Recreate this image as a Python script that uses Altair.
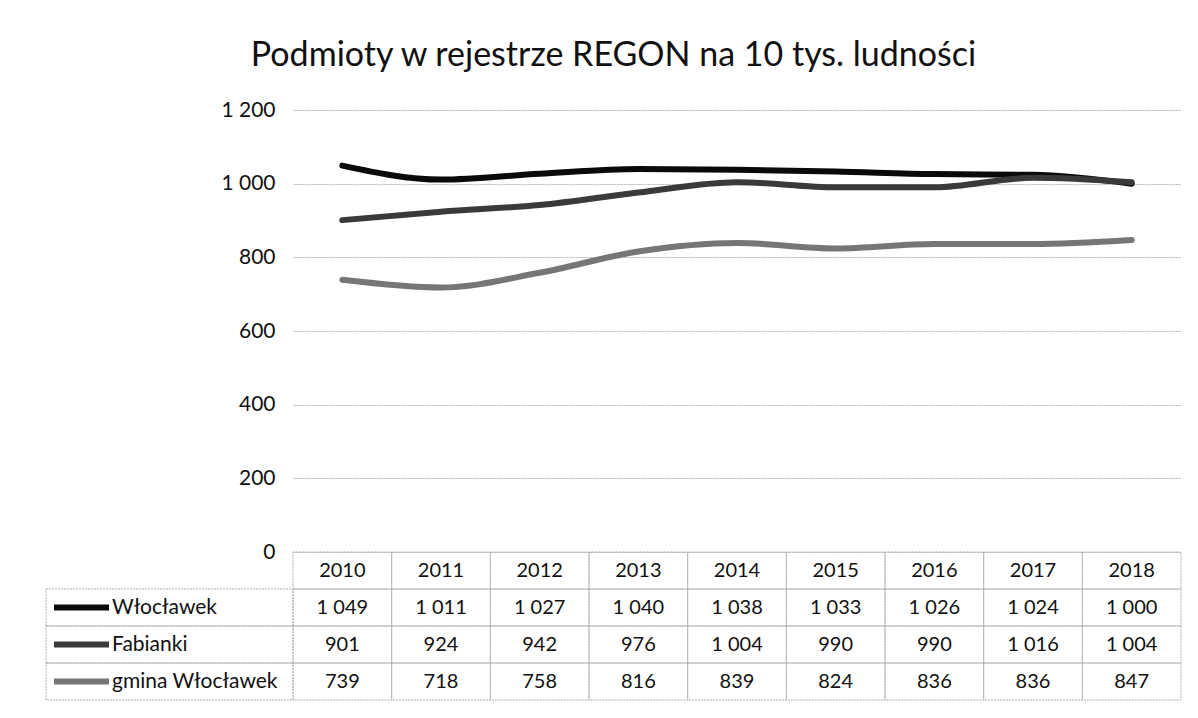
import altair as alt
import pandas as pd

# ---- data ----
years = ["2010", "2011", "2012", "2013", "2014", "2015", "2016", "2017", "2018"]
series_names = ["Włocławek", "Fabianki", "gmina Włocławek"]
wloclawek = [1049, 1011, 1027, 1040, 1038, 1033, 1026, 1024, 1000]
fabianki = [901, 924, 942, 976, 1004, 990, 990, 1016, 1004]
gmina_wloclawek = [739, 718, 758, 816, 839, 824, 836, 836, 847]
y_ticks = [0, 200, 400, 600, 800, 1000, 1200]
title_text = "Podmioty w rejestrze REGON na 10 tys. ludności"
colors = ["#0a0a0a", "#3a3a3a", "#767676"]

FONT = "Lato"
W, H = 888, 442

series_values = [wloclawek, fabianki, gmina_wloclawek]
rows = []
for name, vals in zip(series_names, series_values):
    for yr, v in zip(years, vals):
        rows.append({"year": yr, "series": name, "value": v})
df = pd.DataFrame(rows)


def fmt(v):
    return f"{v:,}".replace(",", " ")


table_rows = [{"year": yr, "row": "hdr", "label": yr} for yr in years]
for name, vals in zip(series_names, series_values):
    for yr, v in zip(years, vals):
        table_rows.append({"year": yr, "row": name, "label": fmt(v)})
table_df = pd.DataFrame(table_rows)
legend_df = pd.DataFrame({"row": series_names, "series": series_names})

color = alt.Color("series:N", scale=alt.Scale(domain=series_names, range=colors), legend=None)

# ---- line chart ----
lines = alt.Chart(df).mark_line(strokeWidth=6, interpolate="monotone", strokeCap="round").encode(
    x=alt.X("year:O", scale=alt.Scale(type="point", padding=0.5, domain=years), axis=None),
    y=alt.Y(
        "value:Q",
        scale=alt.Scale(domain=[0, 1200]),
        axis=alt.Axis(
            values=y_ticks, title=None, domain=False, ticks=False, labelPadding=18,
            labelFontSize=21, labelFont=FONT, labelColor="#111111",
            gridColor="#b5b5b5", gridDash=[2, 1], gridWidth=1,
            labelExpr="replace(format(datum.value, ','), ',', ' ')",
        ),
    ),
    color=color,
).properties(width=W, height=H)

# ---- data table under the chart ----
row_domain = ["hdr"] + series_names
x_tab = alt.X("year:O", scale=alt.Scale(type="band", paddingInner=0, paddingOuter=0, domain=years), axis=None)
y_tab = alt.Y("row:N", scale=alt.Scale(domain=row_domain, paddingInner=0, paddingOuter=0), axis=None)

cells = alt.Chart(table_df).mark_rect(
    fillOpacity=0, stroke="#b0b0b0", strokeDash=[2, 1], strokeWidth=1
).encode(x=x_tab, y=y_tab)

cell_text = alt.Chart(table_df).mark_text(fontSize=20, font=FONT, color="#111111").encode(
    x=x_tab, y=y_tab, text="label:N"
)

legend_cells = alt.Chart(legend_df).mark_rect(
    fillOpacity=0, stroke="#b0b0b0", strokeDash=[2, 1], strokeWidth=1
).encode(x=alt.value(-247), x2=alt.value(0), y=y_tab)

legend_swatch = alt.Chart(legend_df).mark_rule(strokeWidth=6).encode(
    x=alt.value(-239), x2=alt.value(-184), y=y_tab, color=color
)

legend_text = alt.Chart(legend_df).mark_text(
    fontSize=21, font=FONT, color="#111111", align="left"
).encode(x=alt.value(-181), y=y_tab, text="row:N")

table = alt.layer(cells, cell_text, legend_cells, legend_swatch, legend_text).properties(
    width=W, height=148
)

chart = alt.vconcat(lines, table, spacing=0, bounds="flush").properties(
    title=alt.TitleParams(
        title_text, fontSize=34, font=FONT, fontWeight="normal", color="#111111",
        anchor="middle", offset=26,
    ),
    padding={"left": 37, "top": 31, "right": 5, "bottom": 5},
).configure_view(stroke=None)

chart.save("out.html", embed_options={"renderer": "svg", "actions": False})
